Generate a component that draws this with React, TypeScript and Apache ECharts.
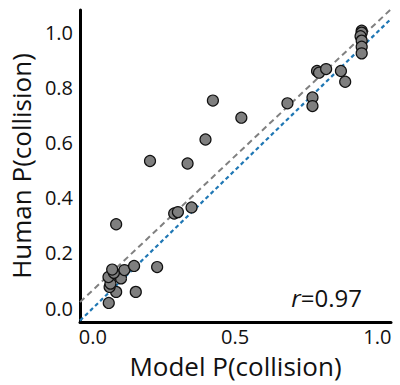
import React, { useEffect, useRef } from "react";
import * as echarts from "echarts";

const modelP = [0.056, 0.082, 0.151, 0.059, 0.062, 0.055, 0.099, 0.074, 0.068, 0.111, 0.145, 0.226, 0.082, 0.286, 0.299, 0.347, 0.201, 0.333, 0.396, 0.422, 0.522, 0.684, 0.772, 0.772, 0.788, 0.795, 0.82, 0.872, 0.887, 0.945, 0.945, 0.941, 0.945, 0.945, 0.945];
const humanP = [0.019, 0.059, 0.059, 0.077, 0.089, 0.113, 0.108, 0.128, 0.14, 0.138, 0.153, 0.149, 0.304, 0.343, 0.348, 0.365, 0.533, 0.524, 0.611, 0.752, 0.69, 0.742, 0.763, 0.732, 0.859, 0.853, 0.866, 0.859, 0.82, 1.005, 0.998, 0.985, 0.969, 0.947, 0.923];
const xTicks = [0, 0.5, 1.0];
const yTicks = [0, 0.2, 0.4, 0.6, 0.8, 1.0];
const fitLine = [[-0.045, 0.022], [1.048, 1.083]];
const identityLine = [[-0.045, -0.045], [1.048, 1.048]];
const rText = "0.97";

const FONT = "'Open Sans', Lato, sans-serif";

export default function App() {
  const ref = useRef<HTMLDivElement>(null);
  useEffect(() => {
    if (!ref.current) return;
    const chart = echarts.init(ref.current, null, { renderer: "svg" });
    chart.setOption({
      animation: false,
      textStyle: { fontFamily: FONT },
      grid: { left: 75, right: 9, top: 10, bottom: 63 },
      xAxis: {
        type: "value",
        min: -0.045,
        max: 1.048,
        splitLine: { show: false },
        axisTick: { show: false },
        axisLine: { show: true, onZero: false, lineStyle: { color: "#000", width: 3 } },
        axisLabel: {
          customValues: xTicks,
          color: "#111",
          fontSize: 20,
          lineHeight: 20,
          fontFamily: FONT,
          margin: 4,
          formatter: (v: number) => v.toFixed(1),
        },
        name: "Model P(collision)",
        nameLocation: "middle",
        nameGap: 31,
        nameTextStyle: { color: "#111", fontSize: 26, lineHeight: 26, fontFamily: FONT, verticalAlign: "top" },
      },
      yAxis: {
        type: "value",
        min: -0.05,
        max: 1.08,
        splitLine: { show: false },
        axisTick: { show: false },
        axisLine: { show: true, onZero: false, lineStyle: { color: "#000", width: 3 } },
        axisLabel: {
          customValues: yTicks,
          color: "#111",
          fontSize: 20,
          fontFamily: FONT,
          margin: 7,
          formatter: (v: number) => v.toFixed(1),
        },
        name: "Human P(collision)",
        nameLocation: "middle",
        nameGap: 44,
        nameTextStyle: { color: "#111", fontSize: 26, fontFamily: FONT },
      },
      series: [
        {
          type: "line",
          data: fitLine,
          symbol: "none",
          z: 1,
          lineStyle: { color: "#808080", width: 2, type: [6, 4] },
        },
        {
          type: "line",
          data: identityLine,
          symbol: "none",
          z: 2,
          lineStyle: { color: "#1f77b4", width: 2.2, type: [4, 3] },
        },
        {
          type: "scatter",
          data: modelP.map((x, i) => [x, humanP[i]]),
          symbolSize: 11,
          z: 3,
          itemStyle: { color: "#7f7f7f", borderColor: "#111", borderWidth: 1.2, opacity: 1 },
        },
      ],
      graphic: [
        {
          type: "text",
          right: 38,
          top: 285,
          style: {
            rich: {
              i: { fontStyle: "italic", fontSize: 24, fontFamily: FONT, fill: "#111" },
              n: { fontSize: 24, fontFamily: FONT, fill: "#111" },
            },
            text: "{i|r}{n|=" + rText + "}",
          },
        },
      ],
    });
    return () => chart.dispose();
  }, []);
  return <div ref={ref} style={{ width: 400, height: 385, position: "absolute", left: 0, top: 0 }} />;
}
